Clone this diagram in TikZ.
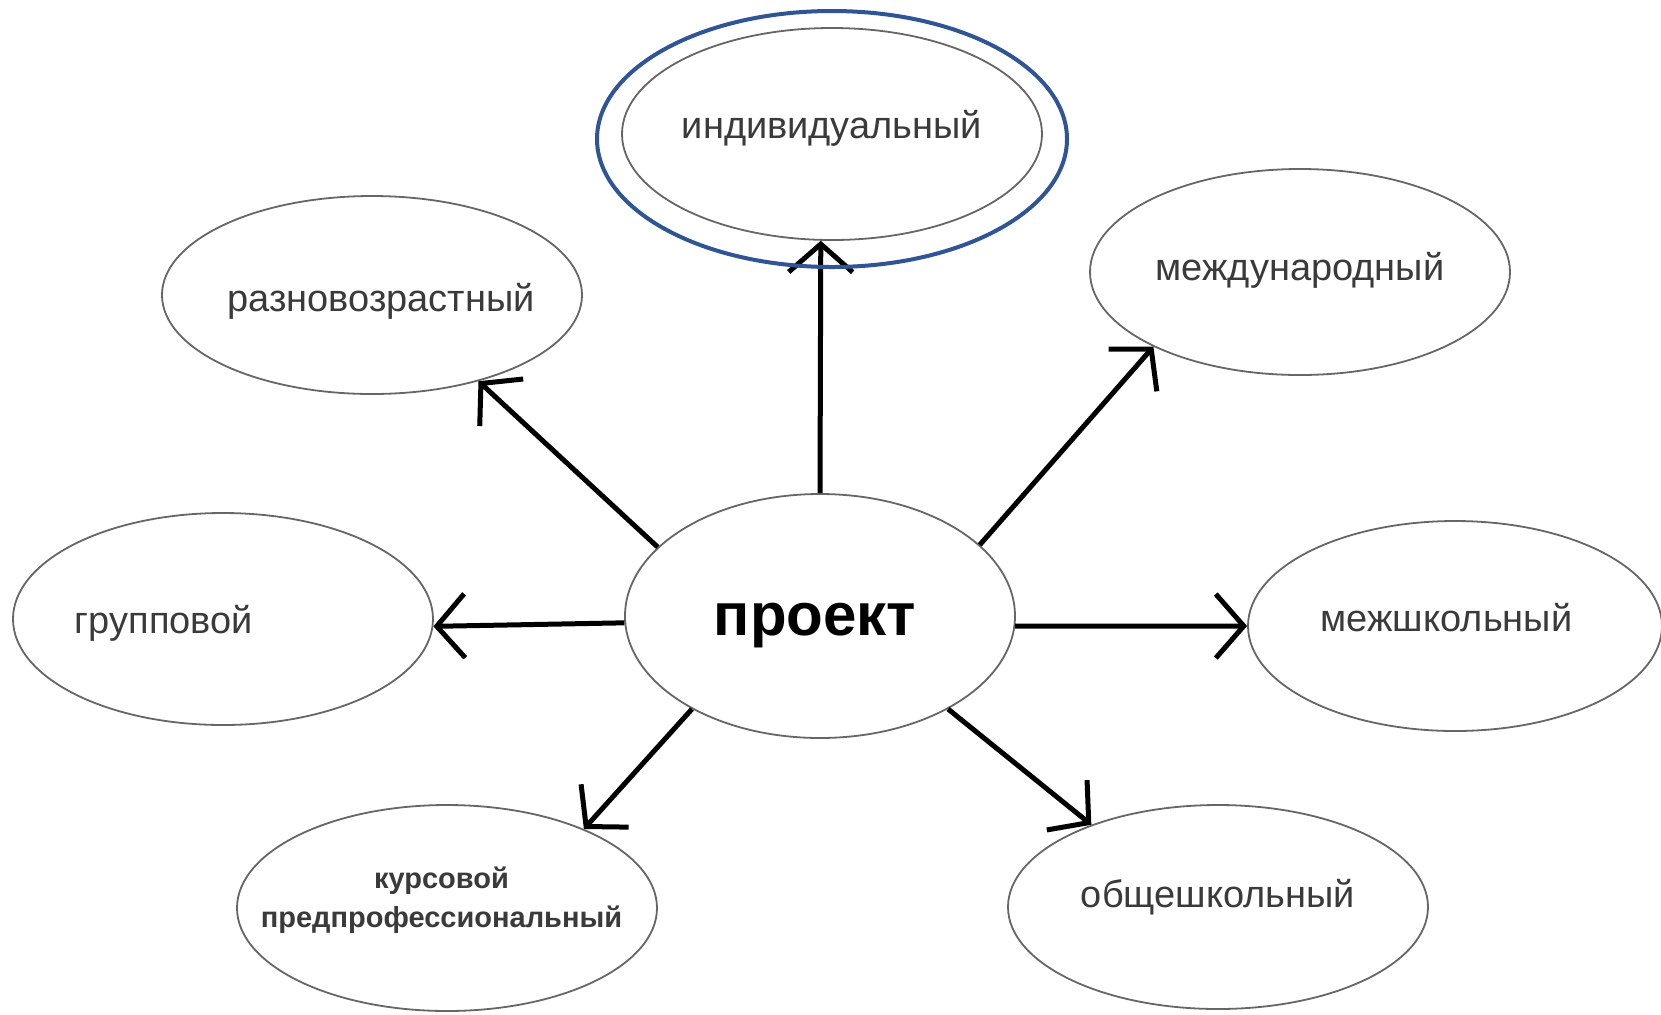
\documentclass[tikz,border=0pt]{standalone}
\usepackage{fontspec}
\setmainfont{Liberation Sans}
\usetikzlibrary{shapes.geometric,arrows.meta}
\definecolor{ringblue}{HTML}{2F5597}
\definecolor{textgrey}{HTML}{3A3A3A}
\tikzset{
  kind/.style={ellipse, draw=black!60, line width=0.9pt, inner ysep=0pt, inner xsep=-25pt,
    minimum width=210pt, minimum height=104pt, text=textgrey, text depth=0pt,
    font=\fontsize{19}{23}\selectfont},
  link/.style={line width=2.5pt, -{Straight Barb[length=14pt,width=32pt]}}
}

\begin{document}
\begin{tikzpicture}[x=0.5pt, y=-0.5pt]
    \path[fill=white] (0,0) rectangle (1661,1014);
    \useasboundingbox (0,0) rectangle (1661,1014);
    \node(Proekt)		[kind, minimum width=195pt, minimum height=122pt, text=black, text height=19pt,
    	font=\fontsize{30}{36}\selectfont\bfseries] at (820,616) {проект\hspace*{5pt}};
    \node(Individ)		[kind, minimum height=106pt, text height=4pt] at (832,134) {индивидуальный};
    \node(Raznovozr)	[kind, minimum height=99pt, text height=16.7pt] at (372,295) {\hspace*{9pt}разновозрастный};
    \node(Mezhdunar)	[kind, minimum height=103pt, text height=8pt] at (1300,272) {международный};
    \node(Gruppovoy)	[kind, minimum height=106pt, text height=14pt, text width=148pt, align=left] at (223,619) {групповой};
    \node(Mezhshkol)	[kind, minimum width=207pt, minimum height=105pt, text height=5.7pt] at (1455,626) {межшкольный\hspace*{8.5pt}};
    \node(Kursovoy)		[kind, minimum height=103pt, text height=0pt, text depth=20pt,
    	font=\fontsize{14.5}{19.5}\selectfont\bfseries] at (447,908)
    	{\begin{tabular}[t]{@{}c@{}}курсовой\\предпрофессиональный\end{tabular}\hspace*{5.5pt}};
    \node(Obshchesh)	[kind, minimum height=102pt, text height=0pt] at (1218,907) {общешкольный};
    \draw[link](Proekt.90)      -- (Individ.264);
    \draw[link](Proekt.157)     -- (Raznovozr.-39);
    \draw[link](Proekt.24)      -- (Mezhdunar.207);
    \draw[link](Proekt.182)     -- (Gruppovoy.-2);
    \draw[link](Proekt.-3)      -- (Mezhshkol.180);
    \draw[link](Proekt.216)     -- (Kursovoy.30);
    \draw[link](Proekt.-36)     -- (Obshchesh.147);
    \draw[ringblue, line width=2pt] ([yshift=-2.5pt]Individ.center) ellipse [x radius=117.5pt, y radius=64pt];
  \end{tikzpicture}
\end{document}
